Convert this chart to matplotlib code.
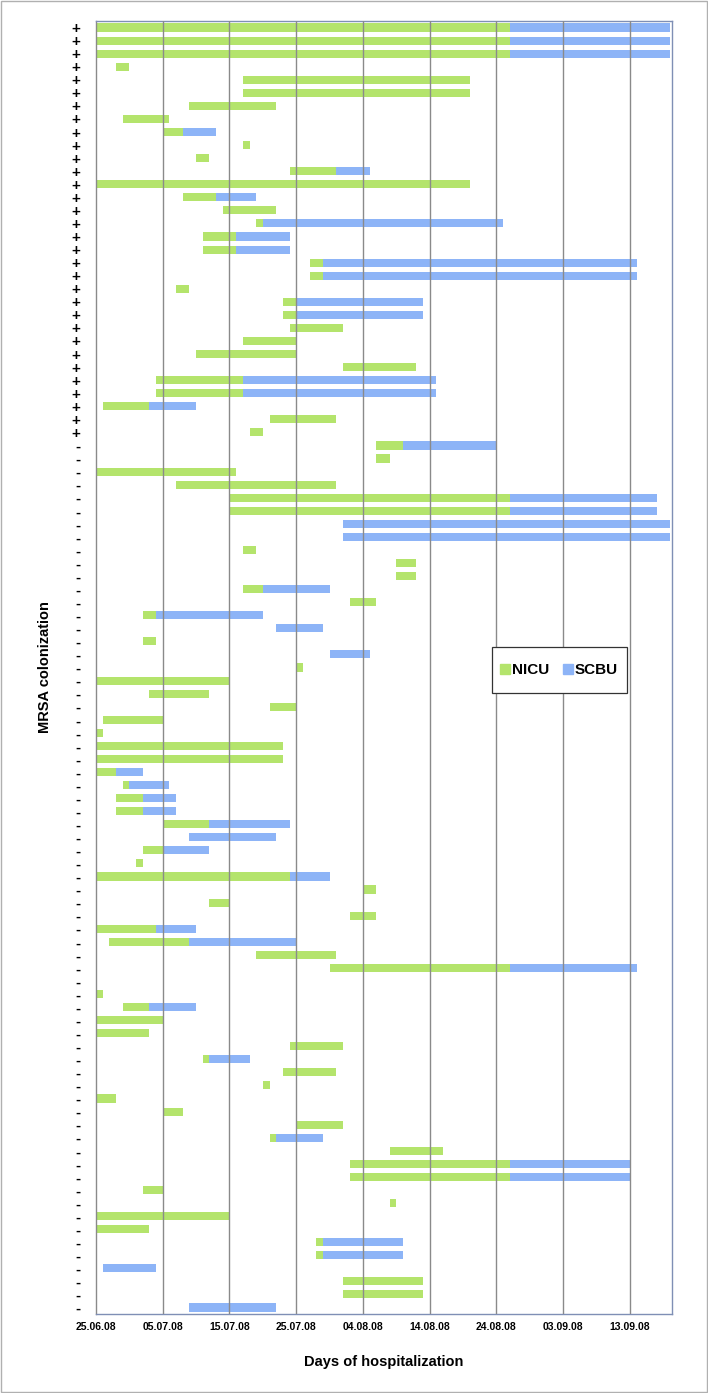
import matplotlib
matplotlib.use('Agg')
import matplotlib.pyplot as plt
import numpy as np
from matplotlib.lines import Line2D
from matplotlib.patches import Rectangle

plt.rcParams['font.family'] = ['Liberation Sans', 'DejaVu Sans']

N = None
tick_days = [0, 10, 20, 30, 40, 50, 60, 70, 80]
tick_dates = ['25.06.08', '05.07.08', '15.07.08', '25.07.08', '04.08.08',
              '14.08.08', '24.08.08', '03.09.08', '13.09.08']
colonization = ['+'] * 32 + ['-'] * 67

nicu_start = [0, 0, 0, 3, 22, 22, 14, 4, 10, 22,
              15, 29, 0, 13, 19, 24, 16, 16, 32, 32,
              12, 28, 28, 29, 22, 15, 37, 9, 9, 1,
              26, 23, 42, 42, 0, 12, 20, 20, N, N,
              22, 45, 45, 22, 38, 7, N, 7, N, 30,
              0, 8, 26, 1, 0, 0, 0, 0, 4, 3,
              3, 10, N, 7, 6, 0, 40, 17, 38, 0,
              2, 24, 35, N, 0, 4, 0, 0, 29, 16,
              28, 25, 0, 10, 30, 26, 44, 38, 38, 7,
              44, 0, 0, 33, 33, N, 37, 37, N]
nicu_end = [62, 62, 62, 5, 56, 56, 27, 11, 13, 23,
            17, 36, 56, 18, 27, 25, 21, 21, 34, 34,
            14, 30, 30, 37, 30, 30, 48, 22, 22, 8,
            36, 25, 46, 44, 21, 36, 62, 62, N, N,
            24, 48, 48, 25, 42, 9, N, 9, N, 31,
            20, 17, 30, 10, 1, 28, 28, 3, 5, 7,
            7, 17, N, 10, 7, 29, 42, 20, 42, 9,
            14, 36, 62, N, 1, 8, 10, 8, 37, 17,
            36, 26, 3, 13, 37, 27, 52, 62, 62, 10,
            45, 20, 8, 34, 34, N, 49, 49, N]
scbu_start = [62, 62, 62, N, N, N, N, N, 13, N,
              N, 36, N, 18, N, 25, 21, 21, 34, 34,
              N, 30, 30, N, N, N, N, 22, 22, 8,
              N, N, 46, N, N, N, 62, 62, 37, 37,
              N, N, N, 25, N, 9, 27, N, 35, N,
              N, N, N, N, N, N, N, 3, 5, 7,
              7, 17, 14, 10, N, 29, N, N, N, 9,
              14, N, 62, N, N, 8, N, N, N, 17,
              N, N, N, N, N, 27, N, 62, 62, N,
              N, N, N, 34, 34, 1, N, N, 14]
scbu_end = [86, 86, 86, N, N, N, N, N, 18, N,
            N, 41, N, 24, N, 61, 29, 29, 81, 81,
            N, 49, 49, N, N, N, N, 51, 51, 15,
            N, N, 60, N, N, N, 84, 84, 86, 86,
            N, N, N, 35, N, 25, 34, N, 41, N,
            N, N, N, N, N, N, N, 7, 11, 12,
            12, 29, 27, 17, N, 35, N, N, N, 15,
            30, N, 81, N, N, 15, N, N, N, 23,
            N, N, N, N, N, 34, N, 80, 80, N,
            N, N, N, 46, 46, 9, N, N, 27]

GREEN = '#b4e46c'
BLUE = '#8db4f7'

def to_arr(v):
    return np.array([np.nan if x is None else x for x in v], dtype=float)

ns, ne, ss, se = map(to_arr, (nicu_start, nicu_end, scbu_start, scbu_end))
rows = np.arange(1, len(colonization) + 1)

W, H = 708, 1393
fig = plt.figure(figsize=(W / 100, H / 100), dpi=100)
left, right, top, bottom = 96, 672, 21, 1314
ax = fig.add_axes([left / W, 1 - bottom / H, (right - left) / W, (bottom - top) / H])

ax.barh(rows, ne - ns, left=ns, height=0.62, color=GREEN, zorder=2)
ax.barh(rows, se - ss, left=ss, height=0.62, color=BLUE, zorder=2)

for d in tick_days[1:]:
    ax.axvline(d, color='#8a8a8a', lw=1.0, zorder=3)

ax.set_xlim(0, 86.3)
ax.set_ylim(len(colonization) + 0.5, 0.5)
ax.set_xticks(tick_days)
ax.set_xticklabels(tick_dates, fontsize=7.5, fontweight='bold')
ax.set_yticks(rows)
ax.set_yticklabels(colonization, fontsize=11, fontweight='bold')
ax.tick_params(axis='x', length=0, pad=6)
ax.tick_params(axis='y', length=0, pad=11)
for s in ax.spines.values():
    s.set_color('#7f8fb5')
    s.set_linewidth(1.0)
ax.spines['left'].set_color('#8a8a8a')

ax.set_xlabel('Days of hospitalization', fontsize=10.5, fontweight='bold', labelpad=16)
ax.set_ylabel('MRSA colonization', fontsize=10.5, fontweight='bold', labelpad=14)

# legend box
bx0, bx1, by0, by1 = 492, 627, 647, 693
box = Rectangle((bx0 / W, 1 - by1 / H), (bx1 - bx0) / W, (by1 - by0) / H,
                transform=fig.transFigure, facecolor='white',
                edgecolor='#333333', lw=0.9, zorder=5, clip_on=False)
ax.add_patch(box)

handles = [Line2D([0], [0], marker='s', color='none', markerfacecolor=GREEN,
                  markeredgecolor=GREEN, markersize=6.5),
           Line2D([0], [0], marker='s', color='none', markerfacecolor=BLUE,
                  markeredgecolor=BLUE, markersize=6.5)]
leg = ax.legend(handles, ['NICU', 'SCBU'], loc='center',
                bbox_to_anchor=((bx0 + bx1) / 2 / W, 1 - (by0 + by1) / 2 / H),
                bbox_transform=fig.transFigure, ncol=2, frameon=False,
                prop={'weight': 'bold', 'size': 11}, handlelength=0.5,
                handletextpad=0.2, columnspacing=1.0, borderpad=0.2)
leg.set_zorder(6)

fig.patches.append(Rectangle((0.002, 0.001), 0.996, 0.998, transform=fig.transFigure,
                             fill=False, edgecolor='#b0b0b0', lw=1.0))

fig.savefig('out.png', dpi=100)
